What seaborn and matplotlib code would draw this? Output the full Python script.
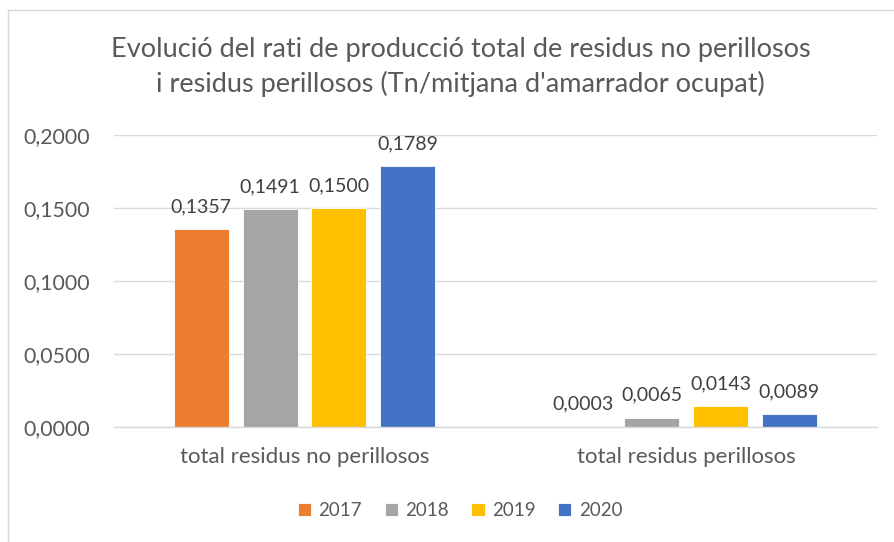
import matplotlib
matplotlib.use("Agg")
import matplotlib.pyplot as plt
import numpy as np
import pandas as pd
import seaborn as sns

# data
categories = ["total residus no perillosos", "total residus perillosos"]
years = ["2017", "2018", "2019", "2020"]
values_2017 = [0.1357, 0.0003]
values_2018 = [0.1491, 0.0065]
values_2019 = [0.1500, 0.0143]
values_2020 = [0.1789, 0.0089]
colors = ["#ED7D31", "#A5A5A5", "#FFC000", "#4472C4"]

rows = []
for year, vals in zip(years, [values_2017, values_2018, values_2019, values_2020]):
    for cat, v in zip(categories, vals):
        rows.append({"categoria": cat, "any": year, "valor": v})
df = pd.DataFrame(rows)

sns.set_theme(style="white")
plt.rcParams["font.family"] = ["Lato", "DejaVu Sans"]
txt = "#595959"

fig = plt.figure(figsize=(8.94, 5.42), dpi=100)
ax = fig.add_axes([0.127, 0.212, 0.854, 0.539])

sns.barplot(data=df, x="categoria", y="valor", hue="any", palette=colors,
            order=categories, hue_order=years, width=0.72, gap=0.2,
            saturation=1, edgecolor="white", linewidth=0.6, ax=ax)

ax.set_ylim(0, 0.2)
ax.set_yticks(np.arange(0, 0.2001, 0.05))
ax.set_yticklabels([f"{t:.4f}".replace(".", ",") for t in np.arange(0, 0.2001, 0.05)])
ax.yaxis.grid(True, color="#D9D9D9", linewidth=1)
ax.set_axisbelow(True)
for s in ["top", "right", "left"]:
    ax.spines[s].set_visible(False)
ax.spines["bottom"].set_color("#D9D9D9")
ax.spines["bottom"].set_linewidth(1)
ax.tick_params(axis="y", length=0, pad=17, labelsize=15.3, colors=txt)
ax.tick_params(axis="x", length=0, pad=14, labelsize=16, colors=txt)
ax.set_xlabel("")
ax.set_ylabel("")

for cont in ax.containers:
    labels = [f"{b.get_height():.4f}".replace(".", ",") for b in cont]
    ax.bar_label(cont, labels=labels, padding=10, fontsize=14, color="#404040")

ax.legend(loc="upper center", bbox_to_anchor=(0.454, -0.2), ncol=4, frameon=False,
          fontsize=13.5, handlelength=0.7, handleheight=0.7, columnspacing=1.2,
          handletextpad=0.4, labelcolor=txt)

fig.text(0.515, 0.876, "Evolució del rati de producció total de residus no perillosos\n"
         "i residus perillosos (Tn/mitjana d'amarrador ocupat)",
         ha="center", va="center", fontsize=19.5, color=txt, linespacing=1.4)

# chart border (left and top edges visible)
fig.add_artist(plt.Rectangle((8 / 894, -0.02), 1.0, 1 - 10 / 542 + 0.02,
                             transform=fig.transFigure, fill=False,
                             edgecolor="#D9D9D9", linewidth=1))

fig.savefig("out.png", dpi=100)
